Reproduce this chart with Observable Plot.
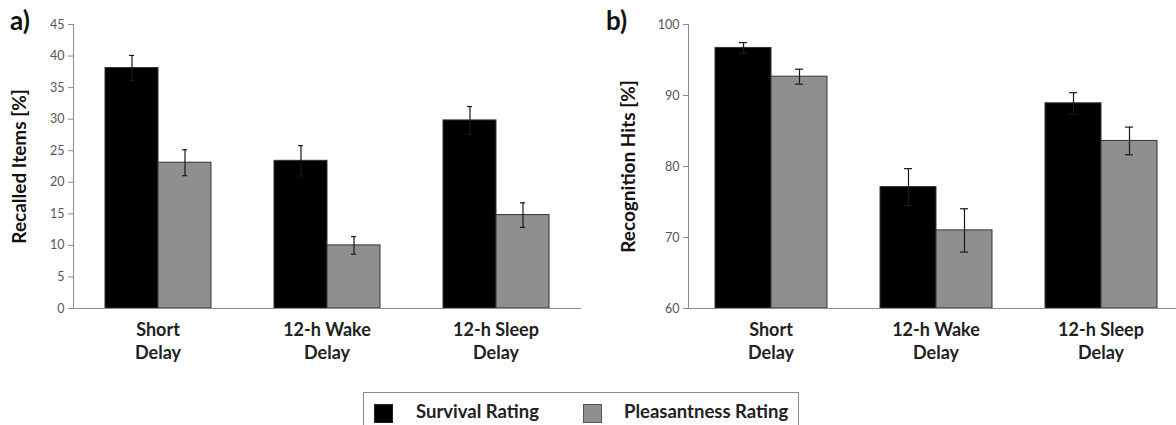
<!DOCTYPE html>
<html>
<head>
<meta charset="utf-8">
<script src="https://cdn.jsdelivr.net/npm/d3@7"></script>
<script src="https://cdn.jsdelivr.net/npm/@observablehq/plot@0.6"></script>
<style>
  html, body { margin: 0; padding: 0; background: #fff; }
  body { width: 1176px; height: 425px; overflow: hidden; position: relative; font-family: Lato, "Open Sans", sans-serif; }
  .panel { position: absolute; top: 0; }
  .panel svg { max-width: none !important; }
  .tag { position: absolute; font-weight: bold; font-size: 26px; color: #111; }
  .legend { position: absolute; left: 363px; top: 392px; width: 436px; height: 44px; border: 1px solid #8a8a8a; box-sizing: border-box; }
  .sw { position: absolute; top: 11px; width: 19px; height: 19px; box-sizing: border-box; }
  .lt { position: absolute; top: 7px; font-weight: bold; font-size: 18.5px; color: #222; }
</style>
</head>
<body>
<div id="a" class="panel" style="left:0px;width:588px"></div>
<div id="b" class="panel" style="left:588px;width:595px"></div>
<div class="tag" style="left:10px;top:4px">a)</div>
<div class="tag" style="left:606px;top:4px">b)</div>
<div class="legend">
  <div class="sw" style="left:10px;background:#000;border:1px solid #222"></div>
  <div class="lt" style="left:52px">Survival Rating</div>
  <div class="sw" style="left:219px;background:#8f8f8f;border:1px solid #555"></div>
  <div class="lt" style="left:260px">Pleasantness Rating</div>
</div>
<script>
// ---- data ----
const categories = ["Short Delay", "12-h Wake Delay", "12-h Sleep Delay"];
const categoryLabels = ["Short\nDelay", "12-h Wake\nDelay", "12-h Sleep\nDelay"];
const series = ["Survival Rating", "Pleasantness Rating"];
const seriesColors = ["#000000", "#8f8f8f"];

// panel a: Recalled Items [%]
const recallSurvival = [38.1, 23.4, 29.8];
const recallSurvivalErr = [2.0, 2.4, 2.2];
const recallPleasant = [23.1, 10.0, 14.8];
const recallPleasantErr = [2.05, 1.4, 1.95];
const recallDomain = [0, 45];
const recallTicks = [0, 5, 10, 15, 20, 25, 30, 35, 40, 45];

// panel b: Recognition Hits [%]
const recogSurvival = [96.7, 77.1, 88.9];
const recogSurvivalErr = [0.75, 2.6, 1.5];
const recogPleasant = [92.65, 71.0, 83.6];
const recogPleasantErr = [1.05, 3.05, 1.95];
const recogDomain = [60, 100];
const recogTicks = [60, 70, 80, 90, 100];

function rows(surv, survErr, pleas, pleasErr) {
  const out = [];
  categories.forEach((c, i) => {
    out.push({cat: c, series: series[0], value: surv[i], lo: surv[i] - survErr[i], hi: surv[i] + survErr[i]});
    out.push({cat: c, series: series[1], value: pleas[i], lo: pleas[i] - pleasErr[i], hi: pleas[i] + pleasErr[i]});
  });
  return out;
}

function panel({data, domain, ticks, label, width, marginLeft, marginRight, xOuter, labelDx}) {
  const base = domain[0];
  return Plot.plot({
    width, height: 372,
    marginTop: 24, marginBottom: 64, marginLeft, marginRight,
    style: {fontFamily: "Lato, 'Open Sans', sans-serif", background: "transparent", overflow: "visible"},
    fx: {domain: categories, padding: 0, label: null},
    x: {domain: series, paddingInner: 0, paddingOuter: xOuter, axis: null},
    y: {domain, axis: null},
    color: {domain: series, range: seriesColors},
    marks: [
      Plot.frame({anchor: "left", facet: "super", stroke: "#8c8c8c"}),
      Plot.axisY({ticks, tickSize: 5, tickPadding: 4, label: null, fontSize: 12.5, color: "#555", stroke: "#8c8c8c"}),
      Plot.barY(data, {fx: "cat", x: "series", y1: () => base, y2: "value", fill: "series", stroke: "#333", strokeWidth: 1}),
      Plot.ruleX(data, {fx: "cat", x: "series", y1: "lo", y2: "hi", stroke: "#1a1a1a", strokeWidth: 1.2}),
      Plot.tickY(data, {fx: "cat", x: "series", y: "hi", stroke: "#1a1a1a", strokeWidth: 1.2, insetLeft: 24, insetRight: 24}),
      Plot.tickY(data, {fx: "cat", x: "series", y: "lo", stroke: "#1a1a1a", strokeWidth: 1.2, insetLeft: 24, insetRight: 24}),
      Plot.frame({anchor: "bottom", facet: "super", stroke: "#8c8c8c", strokeWidth: 1.2}),
      Plot.axisFx({anchor: "bottom", tickSize: 0, tickPadding: 10, label: null, fontSize: 18, fontWeight: "bold", fill: "#222", lineHeight: 1.33,
        tickFormat: d => categoryLabels[categories.indexOf(d)]}),
      Plot.text([label], {frameAnchor: "left", textAnchor: "middle", rotate: -90, dx: labelDx, fontSize: 19, fontWeight: "bold", fill: "#111", facet: "super"})
    ]
  });
}

document.getElementById("a").append(panel({
  data: rows(recallSurvival, recallSurvivalErr, recallPleasant, recallPleasantErr),
  domain: recallDomain, ticks: recallTicks, label: "Recalled Items [%]",
  width: 588, marginLeft: 72, marginRight: 7, xOuter: 0.571, labelDx: -54
}));
document.getElementById("b").append(panel({
  data: rows(recogSurvival, recogSurvivalErr, recogPleasant, recogPleasantErr),
  domain: recogDomain, ticks: recogTicks, label: "Recognition Hits [%]",
  width: 595, marginLeft: 100, marginRight: 0, xOuter: 0.46, labelDx: -60
}));
</script>
</body>
</html>
